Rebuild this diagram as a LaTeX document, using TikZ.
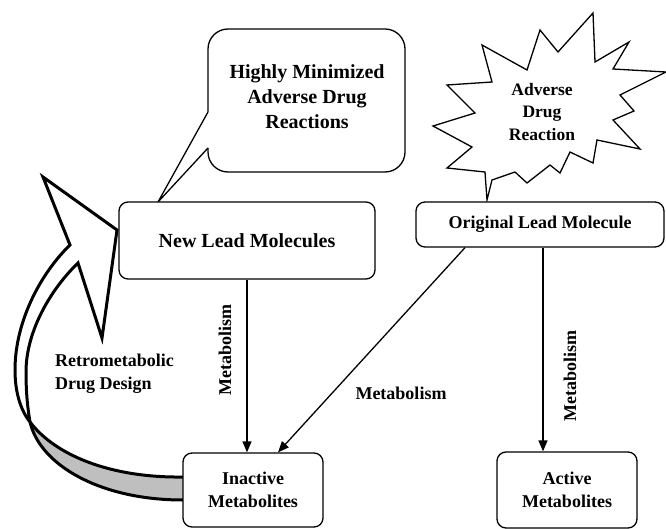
\documentclass[tikz,border=0pt]{standalone}
\usepackage{fontspec}
\setmainfont{Liberation Serif}
\usetikzlibrary{arrows.meta,calc}
\begin{document}
\begin{tikzpicture}[x=1pt,y=-1pt,
  lw/.style={line width=1.3pt},
  box/.style={draw,line width=1.3pt,rounded corners=9pt,fill=white,inner sep=0pt,
    font=\bfseries\fontsize{18}{23}\selectfont,align=center},
  lbl/.style={font=\bfseries\fontsize{18}{23}\selectfont,align=center,inner sep=0pt},
  arr/.style={line width=1.3pt,-{Triangle[length=11pt,width=9pt]}},
  band/.style={line width=3pt}]
\useasboundingbox (0,0) rectangle (666,529);

% curved retrometabolic arrow (twisted ribbon)
\fill[black!25] (30,422) .. controls (55,455) and (110,478) .. (183,477)
  -- (183,500) .. controls (100,500) and (40,465) .. (30,422) -- cycle;
\draw[band] (30,422) .. controls (55,455) and (110,478) .. (183,477);
\draw[band] (30,422) .. controls (40,465) and (100,500) .. (183,500);
\draw[band,fill=white,line join=miter]
  (70,245) -- (43,177) -- (117,230) -- (102,338) -- (78,263)
  .. controls (52,288) and (26,330) .. (26,372)
  .. controls (26,395) and (28,410) .. (30,422)
  .. controls (22,412) and (15,395) .. (15,370)
  .. controls (15,320) and (42,272) .. (70,245) -- cycle;

% callout
\draw[lw,rounded corners=20pt] (208,148) -- (208,172) -- (405,172) -- (405,29) -- (208,29) -- (208,112);
\draw[lw,line join=miter] (208,112) -- (158,202) -- (208,148);
\node[lbl,font=\bfseries\fontsize{20}{25}\selectfont] (hmadr) at (307,97) {Highly Minimized\\Adverse Drug\\Reactions};

% starburst
\draw[lw,fill=white,line join=miter]
  (593,13) -- (595,62) -- (629,42) -- (613,69) -- (666,72) -- (620,95) -- (634,111)
  -- (613,120) -- (640,149) -- (597,140) -- (593,163) -- (570,152) -- (560,173)
  -- (550,165) -- (527,183) -- (515,172) -- (492,180) -- (487,200) -- (485,172)
  -- (447,168) -- (472,147) -- (433,126) -- (475,113) -- (447,85) -- (492,82)
  -- (482,45) -- (527,70) -- (540,30) -- (558,52) -- cycle;
\node[lbl,font=\bfseries\fontsize{17.5}{22.5}\selectfont] (adr) at (542,112) {Adverse\\Drug\\Reaction};

% boxes
\node[box,minimum width=256pt,minimum height=77pt,font=\bfseries\fontsize{20}{25}\selectfont] (newlead) at (247,240.5) {New Lead Molecules};
\node[box,minimum width=248pt,minimum height=45pt] (orig) at (540,224.5) {Original Lead Molecule};
\node[box,minimum width=140pt,minimum height=74pt] (inact) at (253,490) {Inactive\\Metabolites};
\node[box,minimum width=140pt,minimum height=76pt] (active) at (567,490) {Active\\Metabolites};

% connectors
\draw[arr] (newlead.south) -- (newlead.south |- inact.north);
\coordinate (oa) at ($(orig.south)+(3,0)$);
\draw[arr] (oa) -- (oa |- active.north);
\coordinate (od) at ($(orig.south)+(-75,0)$);
\coordinate (id) at ($(inact.north)+(25,0)$);
\draw[arr] (od) -- (id);

% labels
\node[lbl,rotate=90] (m1) at (225,350) {Metabolism};
\node[lbl,rotate=90] (m2) at (570,376) {Metabolism};
\node[lbl] (m3) at (401,393) {Metabolism};
\node[lbl,align=left,anchor=west] (retro) at (55,373.5) {Retrometabolic\\Drug Design};
\end{tikzpicture}
\end{document}
